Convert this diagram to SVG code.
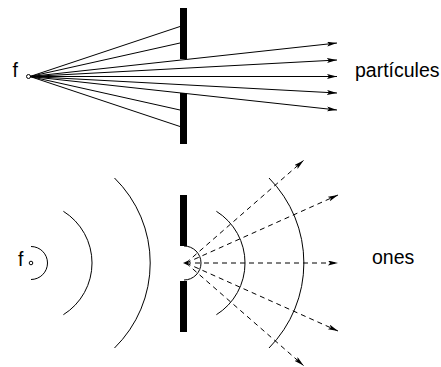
<svg xmlns="http://www.w3.org/2000/svg" width="441" height="367" viewBox="0 0 441 367">
<style>
.ln{stroke:#000;stroke-width:1;fill:none}
.ds{stroke:#000;stroke-width:1;fill:none;stroke-dasharray:5 4}
.wall{fill:#000}
.txt{font-family:"Liberation Sans",Arial,sans-serif;font-size:19.5px;fill:#000}
.dot{fill:#fff;stroke:#000;stroke-width:1}
</style>
<defs>
<marker id="ah" markerUnits="userSpaceOnUse" markerWidth="12" markerHeight="8" refX="10" refY="2.5" orient="auto">
<path d="M0,0 L10,2.5 L0,5 L2,2.5 Z" fill="#000"/>
</marker>
</defs>
<rect width="441" height="367" fill="#fff"/>
<g id="top-source">
<text class="txt" x="12.5" y="77">f</text>
<circle class="dot" cx="28.5" cy="76.5" r="2"/>
</g>
<g id="top-barrier">
<rect class="wall" x="180" y="8" width="7" height="51"/>
<rect class="wall" x="180" y="93" width="7" height="51"/>
</g>
<g id="label-particules">
<text class="txt" x="355" y="77">partícules</text>
</g>
<g id="bottom-source">
<text class="txt" x="18" y="266">f</text>
<circle class="dot" cx="31" cy="263" r="1.8"/>
</g>
<g id="bottom-barrier">
<rect class="wall" x="180" y="195" width="7" height="51"/>
<rect class="wall" x="180" y="281" width="7" height="51"/>
<path class="ln" d="M184,246 A17,17 0 0 1 184,280"/>
<path d="M183,263 L188,260.8 L188,265.2 Z" fill="#000"/>
</g>
<g id="wavefronts">
<path class="ln" d="M31,246.5 A16.5,16.5 0 0 1 31,279.5"/>
<path class="ln" d="M63.4,211.3 A61,61 0 0 1 63.4,314.7"/>
<path class="ln" d="M114.5,178 A119,119 0 0 1 114.5,348"/>
<path class="ln" d="M216.4,211.3 A61,61 0 0 1 216.4,314.7"/>
<path class="ln" d="M269,178 A121,121 0 0 1 269,348"/>
</g>
<g id="label-ones">
<text class="txt" x="372" y="264">ones</text>
</g>
<g id="connectors">
<line class="ln" x1="30" y1="76.5" x2="180" y2="26.5"/>
<line class="ln" x1="30" y1="76.5" x2="180" y2="43"/>
<line class="ln" x1="30" y1="76.5" x2="180" y2="110"/>
<line class="ln" x1="30" y1="76.5" x2="180" y2="126.5"/>
<line class="ln" x1="30" y1="76.5" x2="337" y2="43" marker-end="url(#ah)"/>
<line class="ln" x1="30" y1="76.5" x2="337" y2="60" marker-end="url(#ah)"/>
<line class="ln" x1="30" y1="76.5" x2="337" y2="76.5" marker-end="url(#ah)"/>
<line class="ln" x1="30" y1="76.5" x2="337" y2="93" marker-end="url(#ah)"/>
<line class="ln" x1="30" y1="76.5" x2="337" y2="110" marker-end="url(#ah)"/>
<line class="ds" x1="186" y1="263" x2="303.5" y2="160.5" marker-end="url(#ah)"/>
<line class="ds" x1="186" y1="263" x2="338" y2="195" marker-end="url(#ah)"/>
<line class="ds" x1="186" y1="263" x2="338" y2="263" marker-end="url(#ah)"/>
<line class="ds" x1="186" y1="263" x2="338" y2="331" marker-end="url(#ah)"/>
<line class="ds" x1="186" y1="263" x2="303.5" y2="365.5" marker-end="url(#ah)"/>
</g>
</svg>
